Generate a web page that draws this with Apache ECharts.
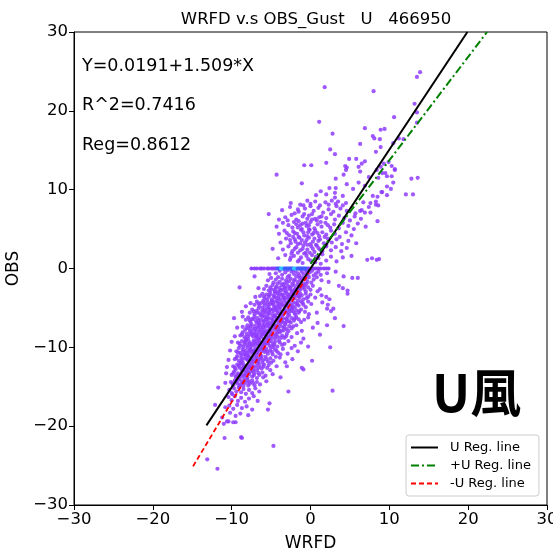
<!DOCTYPE html>
<html><head><meta charset="utf-8">
<script src="https://cdn.jsdelivr.net/npm/echarts@6/dist/echarts.min.js"></script>
<style>html,body{margin:0;padding:0;background:#fff}#c{width:553px;height:551px}</style>
</head><body><div id="c"></div>
<script>
const titleText = 'WRFD v.s OBS_Gust   U   466950';
const xName = 'WRFD';
const yName = 'OBS';
const statLines = ['Y=0.0191+1.509*X', 'R^2=0.7416', 'Reg=0.8612'];
const bigLabel = 'U風';
const axisMin = -30, axisMax = 30, axisStep = 10;
const legendNames = ['U Reg. line', '+U Reg. line', '-U Reg. line'];

// regression line end points (WRFD, OBS)
const uRegLine = [[-13.2, -19.9], [19.9, 30.0]];
const posRegLine = [[0.0, 0.6], [22.4, 30.0]];
const negRegLine = [[-14.9, -25.1], [-0.2, -0.6]];

// OBS == 0 row (WRFD values)
const zeroRowX = [-7.5,-7.1,-6.8,-6.4,-6.2,-5.9,-5.5,-5.3,-5.0,-4.8,-4.6,-4.4,-4.2,-4.05,-3.9,-3.75,-3.6,-3.45,-3.3,-3.15,-3.0,-2.85,-2.7,-2.55,-2.4,-2.25,-2.1,-1.95,-1.8,-1.65,-1.5,-1.35,-1.2,-1.05,-0.9,-0.75,-0.6,-0.4,-0.2,0.1,0.4,0.7,1.0,1.3,1.7,2.0,2.3];

// points with OBS > 0
const upperPoints = [
[1.8,23.0],[8.0,22.5],[13.2,20.9],[13.5,19.8],[13.9,24.9],[13.5,24.3],[1.1,18.6],[10.6,19.2],[13.5,18.5],[6.9,17.8],[8.9,17.6],[9.4,17.7],[2.8,17.1],[7.9,16.8],[8.1,16.5],[8.8,16.4],[6.3,15.8],[11.2,16.5],[11.8,16.4],[10.5,15.9],[8.9,15.4],[2.5,15.1],[3.1,14.5],[8.3,14.8],[4.9,13.9],[5.8,13.9],[6.9,13.6],[6.5,13.3],[2.0,13.4],[-0.8,13.1],[0.1,13.1],[4.4,13.0],[4.6,12.8],[4.5,12.5],[6.1,12.9],[9.3,13.3],[9.9,13.5],[10.3,13.0],[10.7,12.5],[-4.3,11.9],[8.4,12.5],[8.9,12.9],[6.3,12.3],[4.2,11.9],[9.1,12.1],[9.7,11.7],[7.4,11.6],[8.6,11.5],[13.6,11.5],[12.8,11.4],[3.2,11.4],[-1.1,10.8],[4.6,10.7],[5.4,10.1],[6.1,10.9],[6.9,10.5],[2.4,10.2],[3.2,10.2],[1.3,9.8],[2.0,9.4],[0.7,9.3],[3.1,9.6],[4.1,9.2],[9.0,9.7],[9.7,9.3],[10.2,10.1],[10.5,10.9],[13.0,9.4],[12.1,9.4],[7.9,9.2],[8.3,8.5],
[-2.5,8.3],[-1.3,8.1],[-0.4,8.6],[0.0,8.2],[0.6,8.5],[1.2,8.0],[1.9,8.4],[2.3,8.1],[2.7,8.6],[3.2,8.2],[3.5,8.5],[4.1,8.0],[4.5,8.3],[6.7,8.4],[8.3,8.1],[3.1,9.0],[7.6,8.3],[8.5,9.1],[9.1,9.7],[9.7,10.4],[10.3,11.7],[10.7,12.6],[9.5,12.1],[8.6,8.0],
[-3.6,7.4],[-2.6,7.8],[-1.5,7.2],[-0.7,7.6],[0.4,7.3],[1.0,7.7],[1.6,7.1],[2.3,7.5],[2.9,7.2],[3.8,7.6],[4.6,7.3],[5.7,7.0],[-2.0,7.0],[0.0,7.9],[3.3,7.9],[6.5,7.4],[7.4,7.8],[-5.3,6.9],[6.3,7.3],[6.9,7.1],[7.6,7.1],
[-3.2,6.5],[-2.4,6.8],[-1.8,6.2],[-1.0,6.6],[-0.4,6.3],[0.2,6.9],[0.8,6.1],[1.4,6.6],[2.0,6.4],[2.6,6.9],[3.1,6.2],[3.6,6.7],[4.3,6.4],[5.0,6.1],[5.6,6.6],[-0.2,6.7],[1.1,6.5],[-4.0,6.2],[6.4,6.3],[8.5,6.0],
[-4.3,5.3],[-3.5,5.8],[-2.8,5.5],[-2.1,5.9],[-1.6,5.2],[-1.0,5.7],[-0.5,5.4],[0.0,5.9],[0.5,5.1],[0.9,5.6],[1.4,5.3],[1.9,5.8],[2.5,5.2],[3.0,5.6],[3.6,5.1],[4.1,5.8],[4.8,5.4],[5.5,5.0],[-1.3,5.5],[-0.2,5.0],[2.2,5.5],[6.0,5.7],[7.0,5.3],
[-4.0,4.4],[-3.3,4.8],[-2.7,4.2],[-2.2,4.7],[-1.7,4.4],[-1.2,4.9],[-0.8,4.2],[-0.3,4.6],[0.2,4.3],[0.6,4.8],[1.1,4.1],[1.5,4.6],[2.0,4.3],[2.6,4.8],[3.1,4.4],[3.7,4.0],[4.5,4.6],[-1.5,4.0],[-0.1,4.9],[0.9,4.5],[5.2,4.2],[-2.0,4.5],[1.8,4.0],
[-3.8,3.3],[-3.1,3.8],[-2.5,3.2],[-2.0,3.7],[-1.6,3.1],[-1.1,3.6],[-0.7,3.3],[-0.2,3.9],[0.3,3.4],[0.7,3.0],[1.2,3.7],[1.7,3.2],[2.2,3.8],[2.7,3.3],[3.3,3.7],[4.0,3.1],[4.8,3.5],[-1.4,3.9],[0.0,3.1],[1.0,3.5],[5.8,3.2],[-0.5,3.6],[2.0,3.0],
[-3.5,2.4],[-2.8,2.8],[-2.3,2.2],[-1.8,2.7],[-1.3,2.3],[-0.9,2.9],[-0.4,2.4],[0.1,2.8],[0.5,2.1],[1.0,2.6],[1.5,2.2],[2.0,2.8],[2.6,2.3],[3.2,2.7],[3.9,2.2],[-1.6,2.0],[-0.1,2.0],[0.8,2.9],[4.6,2.6],[-2.0,2.5],[1.2,2.4],[-4.8,2.5],
[-4.1,1.3],[-3.2,1.7],[-2.6,1.1],[-2.1,1.6],[-1.6,0.9],[-1.2,1.4],[-0.8,1.9],[-0.3,1.2],[0.2,1.7],[0.6,0.8],[1.0,1.3],[1.5,1.8],[2.0,1.0],[2.6,1.5],[3.3,0.9],[4.1,1.4],[-1.0,0.7],[0.0,1.0],[-2.4,1.9],[1.3,0.6],[7.2,1.1],[7.8,1.3],[8.4,1.1],[8.7,1.2],[5.2,1.6]
];

// denser part of the OBS > 0 cloud
const upperCorePoints = [
[-2.3,5.2],[-1.8,5.6],[-1.1,5.0],[-0.6,5.8],[-0.9,4.6],[-0.4,4.1],[0.4,4.5],[-1.9,3.4],[-1.3,3.2],[-0.4,3.0],[0.5,3.8],[-2.6,3.6],[-1.0,2.5],[-0.6,2.0],[0.3,2.5],[-1.5,6.0],[-0.8,6.9],[0.6,6.3],[-2.9,6.1],[-2.2,4.0],[-3.0,4.5],[-0.2,5.5],[1.3,5.9],[0.2,6.2],[-1.6,7.5],[-0.9,8.0],[-2.5,1.4],[-1.4,1.1],[-0.5,1.6],[0.7,1.5]
];

// points with OBS < 0
const lowerPoints = [
[-4.4,-0.6],[-3.9,-0.3],[-3.6,-0.8],[-3.2,-0.5],[-2.9,-0.2],[-2.7,-0.9],[-2.4,-0.4],[-2.1,-0.7],[-1.9,-0.3],[-1.6,-0.6],[-1.4,-0.9],[-1.1,-0.4],[-0.9,-0.7],[-0.6,-0.2],[-0.4,-0.8],[-0.1,-0.5],[0.2,-0.3],[0.4,-0.9],[0.7,-0.6],[1.0,-0.4],[1.3,-0.8],[-5.2,-0.7],[-3.4,-0.1],[-2.2,-0.2],[-1.2,-0.1],[2.1,-0.6],[3.2,-0.4],[-0.5,-0.45],
[-5.4,-1.5],[-5.0,-1.2],[-4.7,-1.8],[-4.4,-1.4],[-4.1,-1.1],[-3.9,-1.7],[-3.6,-1.3],[-3.4,-1.9],[-3.1,-1.5],[-2.9,-1.1],[-2.7,-1.6],[-2.5,-1.3],[-2.3,-1.9],[-2.0,-1.4],[-1.8,-1.0],[-1.6,-1.7],[-1.4,-1.2],[-1.2,-1.5],[-0.9,-1.9],[-0.7,-1.3],[-0.4,-1.6],[-0.2,-1.1],[0.1,-1.8],[0.4,-1.4],[0.8,-1.1],[-3.0,-1.8],[-2.1,-1.6],[-1.0,-1.2],[-4.2,-1.9],[-0.5,-1.9],[1.4,-1.5],[2.3,-1.7],[4.2,-1.0],[5.3,-1.2],[6.0,-1.2],[-7.1,-1.0],
[-5.9,-2.6],[-5.6,-2.2],[-5.3,-2.8],[-5.1,-2.4],[-4.8,-2.1],[-4.6,-2.7],[-4.3,-2.3],[-4.1,-2.9],[-3.9,-2.5],[-3.7,-2.1],[-3.5,-2.7],[-3.3,-2.4],[-3.1,-2.9],[-2.9,-2.2],[-2.7,-2.6],[-2.5,-2.3],[-2.3,-2.8],[-2.1,-2.1],[-1.9,-2.5],[-1.7,-2.9],[-1.5,-2.3],[-1.3,-2.7],[-1.1,-2.2],[-0.8,-2.6],[-0.6,-2.9],[-0.3,-2.4],[0.0,-2.7],[0.3,-2.2],[-4.5,-2.9],[-3.4,-2.1],[-2.4,-2.95],[-1.6,-2.05],[-0.9,-2.35],[-6.6,-2.5],[-9.0,-2.4],[4.1,-2.5],[4.7,-2.8],[3.6,-2.2],[1.2,-2.6],[0.9,-2.9],
[-6.4,-3.5],[-6.1,-3.2],[-5.8,-3.8],[-5.6,-3.3],[-5.3,-3.6],[-5.1,-3.1],[-4.9,-3.9],[-4.7,-3.4],[-4.4,-3.7],[-4.2,-3.2],[-4.0,-3.5],[-3.8,-3.9],[-3.6,-3.3],[-3.4,-3.7],[-3.2,-3.1],[-3.0,-3.6],[-2.8,-3.9],[-2.6,-3.3],[-2.4,-3.6],[-2.2,-3.2],[-2.0,-3.8],[-1.8,-3.4],[-1.6,-3.1],[-1.4,-3.7],[-1.1,-3.4],[-0.9,-3.9],[-0.6,-3.2],[-0.3,-3.6],[0.0,-3.3],[-5.5,-3.95],[-4.5,-3.05],[-3.5,-3.45],[-2.5,-3.85],[-1.5,-3.55],[-2.9,-3.25],[-4.1,-3.8],[-7.0,-3.6],[0.6,-3.7],[4.7,-3.2],[2.0,-3.6],[2.4,-3.9],[1.4,-3.4],
[-7.1,-4.6],[-6.8,-4.2],[-6.5,-4.8],[-6.3,-4.4],[-6.0,-4.1],[-5.8,-4.7],[-5.5,-4.3],[-5.3,-4.9],[-5.1,-4.5],[-4.9,-4.1],[-4.7,-4.6],[-4.5,-4.2],[-4.3,-4.8],[-4.1,-4.4],[-3.9,-4.9],[-3.7,-4.3],[-3.5,-4.7],[-3.3,-4.1],[-3.1,-4.5],[-2.9,-4.8],[-2.7,-4.2],[-2.5,-4.6],[-2.2,-4.3],[-2.0,-4.9],[-1.8,-4.4],[-1.5,-4.7],[-1.2,-4.2],[-0.9,-4.6],[-0.6,-4.9],[-6.1,-4.95],[-5.0,-4.25],[-4.0,-4.65],[-3.0,-4.35],[-2.4,-4.95],[-1.6,-4.1],[-4.6,-4.9],[-7.6,-4.4],[-8.2,-4.8],[0.1,-4.5],[1.5,-4.3],[2.2,-4.6],[-0.3,-4.2],
[-7.7,-5.6],[-7.4,-5.2],[-7.1,-5.8],[-6.9,-5.4],[-6.6,-5.1],[-6.4,-5.7],[-6.1,-5.3],[-5.9,-5.9],[-5.7,-5.5],[-5.5,-5.1],[-5.3,-5.6],[-5.1,-5.2],[-4.9,-5.8],[-4.7,-5.4],[-4.5,-5.9],[-4.3,-5.3],[-4.1,-5.7],[-3.9,-5.1],[-3.7,-5.5],[-3.5,-5.8],[-3.3,-5.2],[-3.1,-5.6],[-2.9,-5.3],[-2.7,-5.9],[-2.5,-5.4],[-2.3,-5.1],[-2.0,-5.7],[-1.8,-5.3],[-1.5,-5.6],[-1.2,-5.2],[-6.3,-5.95],[-5.2,-5.35],[-4.4,-5.05],[-3.6,-5.95],[-2.8,-5.65],[-2.2,-5.45],[-5.8,-5.25],[-8.7,-5.5],[-0.7,-5.5],[-0.2,-5.8],[2.9,-5.1],[2.1,-5.1],[2.6,-5.4],[0.8,-5.6],
[-8.2,-6.5],[-7.9,-6.2],[-7.6,-6.8],[-7.4,-6.4],[-7.1,-6.1],[-6.9,-6.7],[-6.7,-6.3],[-6.5,-6.9],[-6.3,-6.5],[-6.1,-6.1],[-5.9,-6.6],[-5.7,-6.2],[-5.5,-6.8],[-5.3,-6.4],[-5.1,-6.9],[-4.9,-6.3],[-4.7,-6.7],[-4.5,-6.1],[-4.3,-6.5],[-4.1,-6.8],[-3.9,-6.2],[-3.7,-6.6],[-3.5,-6.3],[-3.3,-6.9],[-3.1,-6.4],[-2.9,-6.1],[-2.7,-6.7],[-2.4,-6.3],[-2.1,-6.6],[-1.8,-6.2],[-6.8,-6.95],[-5.6,-6.45],[-4.6,-6.05],[-3.8,-6.95],[-3.0,-6.75],[-4.0,-6.4],[-9.7,-6.3],[-8.6,-6.1],[-1.2,-6.8],[-0.3,-6.2],[3.1,-6.3],[-0.8,-6.5],[0.9,-6.9],[-1.5,-6.45],
[-8.6,-7.4],[-8.3,-7.8],[-8.0,-7.2],[-7.8,-7.6],[-7.5,-7.1],[-7.3,-7.7],[-7.1,-7.3],[-6.9,-7.9],[-6.7,-7.5],[-6.5,-7.1],[-6.3,-7.6],[-6.1,-7.2],[-5.9,-7.8],[-5.7,-7.4],[-5.5,-7.9],[-5.3,-7.3],[-5.1,-7.7],[-4.9,-7.1],[-4.7,-7.5],[-4.5,-7.8],[-4.3,-7.2],[-4.1,-7.6],[-3.9,-7.3],[-3.7,-7.9],[-3.5,-7.4],[-3.2,-7.1],[-3.0,-7.7],[-2.7,-7.3],[-2.4,-7.6],[-7.7,-7.95],[-6.6,-7.35],[-5.4,-7.05],[-4.4,-7.45],[-3.4,-7.85],[-6.0,-7.45],[-5.0,-7.95],[-9.3,-7.5],[-1.8,-7.2],[-1.1,-7.9],[4.2,-7.3],[2.1,-7.2],[0.3,-7.5],
[-8.9,-8.5],[-8.6,-8.1],[-8.4,-8.7],[-8.1,-8.3],[-7.9,-8.9],[-7.7,-8.4],[-7.5,-8.1],[-7.3,-8.6],[-7.1,-8.2],[-6.9,-8.8],[-6.7,-8.4],[-6.5,-8.1],[-6.3,-8.7],[-6.1,-8.3],[-5.9,-8.9],[-5.7,-8.5],[-5.5,-8.1],[-5.3,-8.6],[-5.1,-8.2],[-4.9,-8.8],[-4.7,-8.4],[-4.5,-8.9],[-4.3,-8.3],[-4.1,-8.7],[-3.9,-8.1],[-3.6,-8.5],[-3.3,-8.8],[-3.0,-8.3],[-8.2,-8.95],[-7.0,-8.45],[-6.0,-8.05],[-5.2,-8.95],[-4.4,-8.55],[-6.6,-8.9],[-5.8,-8.25],[-9.6,-8.6],[-2.4,-8.7],[-1.7,-8.2],[-0.9,-8.9],[1.2,-8.4],
[-9.2,-9.4],[-8.9,-9.8],[-8.7,-9.2],[-8.4,-9.6],[-8.2,-9.1],[-8.0,-9.7],[-7.8,-9.3],[-7.6,-9.9],[-7.4,-9.5],[-7.2,-9.1],[-7.0,-9.6],[-6.8,-9.2],[-6.6,-9.8],[-6.4,-9.4],[-6.2,-9.9],[-6.0,-9.3],[-5.8,-9.7],[-5.6,-9.1],[-5.4,-9.5],[-5.2,-9.8],[-5.0,-9.2],[-4.8,-9.6],[-4.5,-9.3],[-4.2,-9.9],[-3.9,-9.4],[-3.6,-9.7],[-8.5,-9.95],[-7.3,-9.75],[-6.5,-9.05],[-5.5,-9.45],[-4.7,-9.95],[-6.1,-9.6],[-10.0,-9.3],[-2.8,-9.2],[-2.0,-9.8],[-0.3,-9.9],[2.5,-10.0],[-1.2,-9.4],
[-9.4,-10.5],[-9.1,-10.1],[-8.9,-10.7],[-8.6,-10.3],[-8.4,-10.9],[-8.2,-10.4],[-8.0,-10.0],[-7.8,-10.6],[-7.6,-10.2],[-7.4,-10.8],[-7.2,-10.4],[-7.0,-10.1],[-6.8,-10.7],[-6.6,-10.3],[-6.4,-10.9],[-6.2,-10.5],[-6.0,-10.1],[-5.8,-10.6],[-5.6,-10.2],[-5.4,-10.8],[-5.1,-10.4],[-4.8,-10.9],[-4.5,-10.3],[-4.1,-10.7],[-8.8,-10.95],[-7.7,-10.35],[-6.9,-10.95],[-5.9,-10.35],[-5.0,-10.05],[-7.1,-10.55],[-10.2,-10.4],[-3.5,-10.2],[-2.9,-10.8],[-1.6,-10.5],[-2.4,-10.1],
[-9.6,-11.5],[-9.3,-11.1],[-9.1,-11.7],[-8.8,-11.3],[-8.6,-11.9],[-8.4,-11.4],[-8.2,-11.0],[-8.0,-11.6],[-7.8,-11.2],[-7.6,-11.8],[-7.4,-11.4],[-7.2,-11.1],[-7.0,-11.7],[-6.8,-11.3],[-6.6,-11.9],[-6.4,-11.5],[-6.2,-11.1],[-6.0,-11.6],[-5.7,-11.2],[-5.4,-11.8],[-5.1,-11.4],[-4.7,-11.7],[-8.9,-11.95],[-7.9,-11.05],[-6.9,-11.5],[-6.1,-11.95],[-7.3,-11.85],[-10.4,-11.6],[-3.9,-11.3],[-3.2,-11.9],[0.2,-11.7],[-2.3,-11.5],
[-9.8,-12.4],[-9.5,-12.8],[-9.3,-12.2],[-9.0,-12.6],[-8.8,-12.1],[-8.6,-12.7],[-8.4,-12.3],[-8.2,-12.9],[-8.0,-12.5],[-7.8,-12.1],[-7.6,-12.6],[-7.4,-12.2],[-7.2,-12.8],[-7.0,-12.4],[-6.8,-12.9],[-6.5,-12.3],[-6.2,-12.7],[-5.9,-12.2],[-5.5,-12.6],[-5.1,-12.9],[-8.7,-12.95],[-7.7,-12.45],[-6.7,-12.05],[-10.6,-12.5],[-4.3,-12.4],[-1.1,-12.6],[-3.0,-12.4],[-0.9,-12.8],
[-10.0,-13.5],[-9.7,-13.1],[-9.5,-13.7],[-9.2,-13.3],[-9.0,-13.9],[-8.8,-13.4],[-8.6,-13.0],[-8.4,-13.6],[-8.2,-13.2],[-8.0,-13.8],[-7.8,-13.4],[-7.6,-13.1],[-7.4,-13.7],[-7.1,-13.3],[-6.8,-13.9],[-6.5,-13.5],[-6.1,-13.2],[-5.7,-13.6],[-9.4,-13.95],[-8.3,-13.45],[-7.3,-13.05],[-10.7,-13.3],[-4.8,-13.4],[-3.8,-13.8],
[-10.1,-14.4],[-9.8,-14.8],[-9.6,-14.2],[-9.3,-14.6],[-9.1,-14.1],[-8.9,-14.7],[-8.7,-14.3],[-8.5,-14.9],[-8.2,-14.5],[-8.0,-14.1],[-7.7,-14.6],[-7.4,-14.2],[-7.1,-14.8],[-6.8,-14.4],[-6.4,-14.7],[-9.0,-14.95],[-8.4,-14.05],[-10.8,-14.5],[-5.6,-14.3],[-7.9,-14.85],
[-10.3,-15.4],[-10.0,-15.8],[-9.7,-15.2],[-9.4,-15.6],[-9.1,-15.1],[-8.8,-15.7],[-8.5,-15.3],[-8.2,-15.9],[-7.8,-15.4],[-7.4,-15.8],[-7.0,-15.2],[-6.5,-15.6],[-11.7,-15.1],[-2.8,-15.6],[2.8,-15.5],[-9.9,-15.95],
[-10.4,-16.3],[-10.0,-16.7],[-9.6,-16.2],[-9.2,-16.8],[-8.8,-16.4],[-8.3,-16.9],[-7.8,-16.5],[-7.2,-16.2],[-6.7,-16.8],[-5.2,-17.1],[-12.1,-17.3],
[-10.3,-17.4],[-9.8,-17.8],[-9.3,-17.3],[-8.7,-17.7],[-8.1,-17.5],[-7.4,-17.9],[-5.4,-17.9],[-10.8,-17.6],
[-10.2,-18.3],[-9.5,-18.7],[-8.9,-18.4],[-7.9,-18.6],[-11.2,-18.9],
[-10.6,-19.4],[-10.4,-19.4],[-9.8,-19.5],[-9.5,-19.5],[-11.0,-19.7],
[-10.9,-21.5],[-8.8,-21.4],[-8.7,-21.5],[-4.7,-22.5],[-13.1,-24.2],[-11.8,-25.4]
];

// densest part of the OBS < 0 cloud
const lowerCorePoints = [
[-5.0,-2.65],[-4.4,-2.45],[-3.8,-2.75],[-3.2,-2.55],[-2.6,-2.45],[-2.0,-2.7],[-1.4,-2.5],[-0.7,-2.15],
[-5.9,-3.55],[-5.2,-3.35],[-4.6,-3.6],[-3.9,-3.15],[-3.3,-3.8],[-2.7,-3.55],[-2.1,-3.45],[-1.3,-3.2],[-0.5,-3.75],
[-6.6,-4.45],[-5.9,-4.35],[-5.4,-4.6],[-4.8,-4.4],[-4.2,-4.15],[-3.6,-4.55],[-3.0,-4.7],[-2.3,-4.75],[-1.7,-4.55],[-1.0,-4.35],
[-7.2,-5.45],[-6.7,-5.6],[-6.0,-5.55],[-5.4,-5.8],[-4.8,-5.2],[-4.2,-5.5],[-3.4,-5.4],[-2.6,-5.2],[-1.9,-5.9],[-1.4,-5.4],
[-7.7,-6.55],[-7.2,-6.4],[-6.6,-6.6],[-6.0,-6.8],[-5.4,-6.15],[-4.8,-6.55],[-4.2,-6.3],[-3.6,-6.75],[-3.0,-6.45],[-2.5,-6.85],[-2.0,-6.35],
[-8.1,-7.55],[-7.6,-7.35],[-7.0,-7.65],[-6.4,-7.85],[-5.8,-7.15],[-5.2,-7.55],[-4.6,-7.2],[-4.0,-7.85],[-3.3,-7.5],[-2.8,-7.95],[-2.2,-7.35],
[-8.7,-8.35],[-8.0,-8.6],[-7.4,-8.35],[-6.8,-8.65],[-6.2,-8.45],[-5.6,-8.75],[-5.0,-8.5],[-4.2,-8.1],[-3.7,-8.8],[-3.1,-8.6],
[-9.0,-9.55],[-8.3,-9.35],[-7.7,-9.55],[-7.1,-9.35],[-6.7,-9.5],[-5.9,-9.5],[-5.3,-9.25],[-4.6,-9.65],[-4.0,-9.15],[-3.3,-9.55],
[-9.2,-10.65],[-8.5,-10.55],[-8.1,-10.75],[-7.5,-10.45],[-6.7,-10.5],[-6.3,-10.2],[-5.5,-10.5],[-4.9,-10.6],[-4.3,-10.45],[-3.8,-10.9],
[-9.4,-11.35],[-8.7,-11.6],[-8.1,-11.45],[-7.5,-11.55],[-6.7,-11.7],[-6.3,-11.3],[-5.6,-11.5],[-5.0,-11.95],[-4.4,-11.2],
[-9.6,-12.6],[-9.1,-12.35],[-8.5,-12.5],[-7.9,-12.75],[-7.3,-12.5],[-6.6,-12.6],[-6.0,-12.45],[-5.3,-12.25],
[-9.8,-13.3],[-9.3,-13.55],[-8.7,-13.7],[-7.9,-13.2],[-7.2,-13.55],[-6.6,-13.25],[-6.0,-13.8],
[-9.9,-14.6],[-9.4,-14.35],[-8.6,-14.55],[-7.8,-14.35],[-7.3,-14.5]
];

const FONT = 'DejaVu Sans';
const fmt = v => v < 0 ? '\u2212' + Math.abs(v) : String(v);
const chart = echarts.init(document.getElementById('c'), null, {renderer: 'canvas'});
const axisCommon = {
  type: 'value', min: axisMin, max: axisMax, interval: axisStep,
  axisLine: {show: true, onZero: false, lineStyle: {color: '#000', width: 1}},
  axisTick: {show: true, inside: false, length: 5, lineStyle: {color: '#000', width: 1}},
  axisLabel: {color: '#000', fontSize: 16.5, fontFamily: FONT, formatter: fmt, margin: 6},
  splitLine: {show: false},
  nameLocation: 'middle',
  nameTextStyle: {color: '#000', fontSize: 17, fontFamily: FONT}
};
const zeroColor = p => {
  const x = p.value[0];
  if ((x >= -3.8 && x <= -3.4) || (x >= -2.1 && x <= -1.7)) return '#2ec8ff';
  if (x >= -4.3 && x <= -0.3) return '#3f5cff';
  return '#8a3cff';
};
const dotStyle = {color: '#8f3cff', opacity: 0.85};
chart.setOption({
  animation: false,
  textStyle: {fontFamily: FONT},
  title: {text: titleText, left: 311, textAlign: 'center', top: 6,
    textStyle: {fontSize: 16.5, fontWeight: 'normal', color: '#000', fontFamily: FONT}},
  grid: {left: 74, right: 6, top: 32, bottom: 46, show: true, borderColor: '#000', borderWidth: 1,
    backgroundColor: 'transparent', containLabel: false, outerBoundsMode: 'none'},
  xAxis: Object.assign({}, axisCommon, {name: xName, nameGap: 30}),
  yAxis: Object.assign({}, axisCommon, {name: yName, nameGap: 46, nameRotate: 90}),
  legend: {
    data: legendNames, orient: 'vertical', left: 406, top: 435,
    padding: [6, 8, 6, 4], itemWidth: 27, itemHeight: 14, itemGap: 5,
    backgroundColor: 'rgba(255,255,255,0.85)', borderColor: '#cccccc', borderWidth: 1, borderRadius: 3,
    itemStyle: {opacity: 0},
    textStyle: {fontSize: 13, color: '#000', fontFamily: FONT, padding: [0, 0, 0, 7]}
  },
  graphic: [
    {type: 'text', left: 82, top: 57, style: {text: statLines[0], fontSize: 17.5, fontFamily: FONT, fill: '#000'}},
    {type: 'text', left: 82, top: 96, style: {text: statLines[1], fontSize: 17.5, fontFamily: FONT, fill: '#000'}},
    {type: 'text', left: 82, top: 136, style: {text: statLines[2], fontSize: 17.5, fontFamily: FONT, fill: '#000'}},
    {type: 'text', left: 432, top: 367, style: {text: bigLabel, fontSize: 51, fontWeight: 'bold', fontFamily: '"Noto Sans CJK TC", "Noto Sans", sans-serif', fill: '#000'}}
  ],
  series: [
    {type: 'scatter', name: 'obsUpper', data: upperPoints.concat(upperCorePoints), symbolSize: 4.2, z: 2, itemStyle: dotStyle},
    {type: 'scatter', name: 'obsLower', data: lowerPoints.concat(lowerCorePoints), symbolSize: 4.2, z: 2, itemStyle: dotStyle},
    {type: 'scatter', name: 'obsZero', data: zeroRowX.map(x => [x, 0]), symbolSize: 4, z: 2,
      itemStyle: {color: zeroColor, opacity: 0.95}},
    {type: 'line', name: legendNames[0], data: uRegLine, symbol: 'none', showSymbol: false, z: 4,
      lineStyle: {color: '#000', width: 2}, itemStyle: {color: '#000'}},
    {type: 'line', name: legendNames[1], data: posRegLine, symbol: 'none', showSymbol: false, z: 4,
      lineStyle: {color: '#008000', width: 2, type: [8, 3, 2, 3]}, itemStyle: {color: '#008000'}},
    {type: 'line', name: legendNames[2], data: negRegLine, symbol: 'none', showSymbol: false, z: 4,
      lineStyle: {color: '#ff0000', width: 1.8, type: [5, 3]}, itemStyle: {color: '#ff0000'}}
  ]
});
</script>
</body></html>
